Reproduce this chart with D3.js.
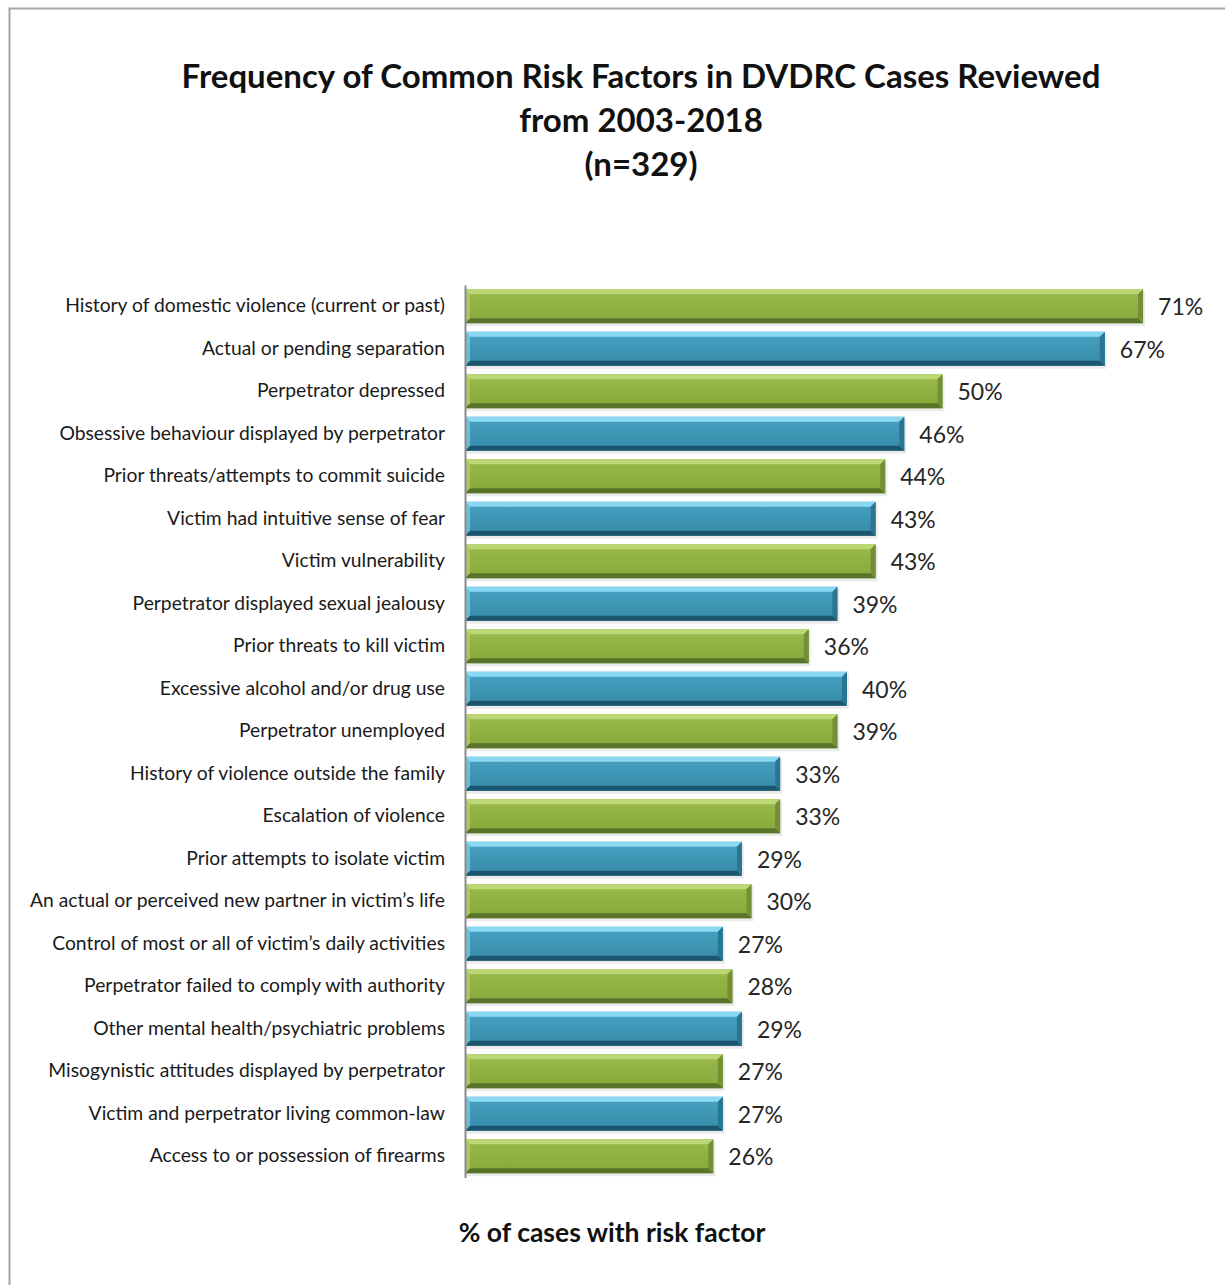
<!DOCTYPE html>
<html>
<head>
<meta charset="utf-8">
<script src="https://cdn.jsdelivr.net/npm/d3@7"></script>
<style>
  body { margin: 0; background: #fff; }
  svg { display: block; font-family: Lato, "Open Sans", sans-serif; }
</style>
</head>
<body>
<div id="chart"></div>
<script>
// risk factors, top to bottom
const factors = [
  "History of domestic violence (current or past)",
  "Actual or pending separation",
  "Perpetrator depressed",
  "Obsessive behaviour displayed by perpetrator",
  "Prior threats/attempts to commit suicide",
  "Victim had intuitive sense of fear",
  "Victim vulnerability",
  "Perpetrator displayed sexual jealousy",
  "Prior threats to kill victim",
  "Excessive alcohol and/or drug use",
  "Perpetrator unemployed",
  "History of violence outside the family",
  "Escalation of violence",
  "Prior attempts to isolate victim",
  "An actual or perceived new partner in victim\u2019s life",
  "Control of most or all of victim\u2019s daily activities",
  "Perpetrator failed to comply with authority",
  "Other mental health/psychiatric problems",
  "Misogynistic attitudes displayed by perpetrator",
  "Victim and perpetrator living common-law",
  "Access to or possession of firearms"
];
const percents = [71, 67, 50, 46, 44, 43, 43, 39, 36, 40, 39, 33, 33, 29, 30, 27, 28, 29, 27, 27, 26];
const titleLines = ["Frequency of Common Risk Factors in DVDRC Cases Reviewed", "from 2003-2018", "(n=329)"];
const axisTitle = "% of cases with risk factor";

const data = factors.map((f, i) => ({ name: f, value: percents[i], kind: i % 2 === 0 ? "green" : "blue" }));

const W = 1225, H = 1285;
const margin = { top: 285, left: 465 };

const palette = {
  green: { top: "#bcd775", face1: "#9aba4b", face2: "#86a83a", bottom: "#58732a", end: "#748f35" },
  blue:  { top: "#8ad8f2", face1: "#47a2c2", face2: "#368aa8", bottom: "#1c566e", end: "#2a7592" }
};

const svg = d3.select("#chart").append("svg")
  .attr("width", W).attr("height", H);

// outer frame
svg.append("rect")
  .attr("x", 9.5).attr("y", 8.5)
  .attr("width", W + 20).attr("height", H + 20)
  .attr("fill", "none").attr("stroke", "#a6a6a6").attr("stroke-width", 2);

const defs = svg.append("defs");
Object.keys(palette).forEach(k => {
  const g = defs.append("linearGradient").attr("id", "grad-" + k)
    .attr("x1", 0).attr("y1", 0).attr("x2", 0).attr("y2", 1);
  g.append("stop").attr("offset", "0%").attr("stop-color", palette[k].face1);
  g.append("stop").attr("offset", "100%").attr("stop-color", palette[k].face2);
});

const x = d3.scaleLinear().domain([0, 80]).range([margin.left, margin.left + 764]);
const y = d3.scaleBand()
  .domain(factors)
  .range([margin.top, margin.top + 892.5])
  .paddingInner(0.2)
  .paddingOuter(0.1);

// title
svg.append("g").selectAll("text")
  .data(titleLines)
  .enter().append("text")
  .attr("x", 641)
  .attr("y", (d, i) => 88 + i * 44)
  .attr("text-anchor", "middle")
  .attr("font-weight", "bold")
  .attr("font-size", 33)
  .attr("fill", "#111")
  .text(d => d);

const bw = y.bandwidth();
const b = 5;

const bars = svg.append("g").selectAll("g")
  .data(data)
  .enter().append("g")
  .attr("transform", d => `translate(0,${y(d.name)})`);

// soft shadow
bars.append("rect")
  .attr("x", x(0)).attr("y", 2)
  .attr("width", d => x(d.value) - x(0) + 2)
  .attr("height", bw + 1)
  .attr("fill", "#000").attr("opacity", 0.08);

bars.append("rect")
  .attr("x", x(0)).attr("y", 0)
  .attr("width", d => x(d.value) - x(0))
  .attr("height", bw)
  .attr("fill", d => `url(#grad-${d.kind})`);

// bevels
bars.append("path")
  .attr("fill", d => palette[d.kind].top)
  .attr("d", d => { const x0 = x(0), x1 = x(d.value); return `M${x0},0L${x1},0L${x1 - b},${b}L${x0 + b},${b}Z`; });
bars.append("path")
  .attr("fill", d => palette[d.kind].bottom)
  .attr("d", d => { const x0 = x(0), x1 = x(d.value); return `M${x0},${bw}L${x1},${bw}L${x1 - b},${bw - b}L${x0 + b},${bw - b}Z`; });
bars.append("path")
  .attr("fill", d => palette[d.kind].end)
  .attr("d", d => { const x1 = x(d.value); return `M${x1},0L${x1},${bw}L${x1 - b},${bw - b}L${x1 - b},${b}Z`; });
bars.append("path")
  .attr("fill", d => palette[d.kind].top).attr("opacity", 0.6)
  .attr("d", () => { const x0 = x(0); return `M${x0},0L${x0 + b},${b}L${x0 + b},${bw - b}L${x0},${bw}Z`; });

// value labels
bars.append("text")
  .attr("x", d => x(d.value) + 15)
  .attr("y", bw / 2 + 1)
  .attr("dy", "0.35em")
  .attr("font-size", 23)
  .attr("fill", "#262626")
  .text(d => d.value + "%");

// category axis
const yAxis = svg.append("g")
  .attr("transform", `translate(${margin.left},0)`)
  .call(d3.axisLeft(y).tickSize(0).tickPadding(20));
yAxis.select(".domain").attr("stroke", "#8c8c8c").attr("stroke-width", 2);
yAxis.selectAll(".tick text")
  .attr("font-family", "Lato, 'Open Sans', sans-serif")
  .attr("font-size", 19.3)
  .attr("fill", "#1a1a1a");

// axis title
svg.append("text")
  .attr("x", 612).attr("y", 1242)
  .attr("text-anchor", "middle")
  .attr("font-weight", "bold")
  .attr("font-size", 26.5)
  .attr("fill", "#111")
  .text(axisTitle);
</script>
</body>
</html>
